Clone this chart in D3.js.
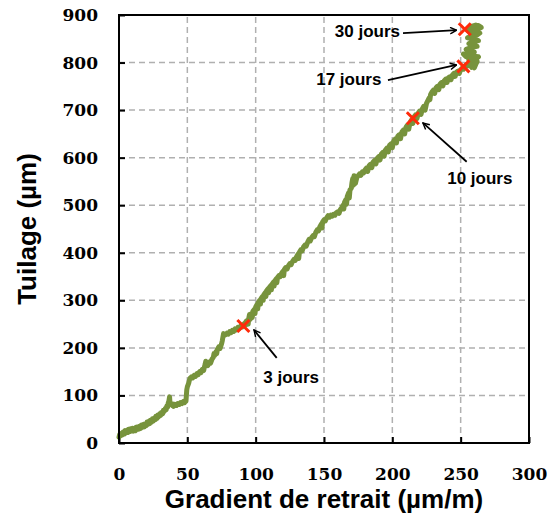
<!DOCTYPE html>
<html>
<head>
<meta charset="utf-8">
<script src="https://cdn.jsdelivr.net/npm/d3@7"></script>
<style>
  body { margin: 0; background: #fff; }
</style>
</head>
<body>
<div id="chart"></div>
<script>
// data
var gradient = [0,0.5,1,2,2.5,3,4,4.5,5,6,6.5,7,8,8.5,9,10,10.5,11,12,12.5,13,14,14.5,15,16,16.5,17,18,18.5,19,20,20.5,21,22,22.5,23,24,24.5,25,26,26.5,27,28,28.5,29,30,30.5,31,32,32.5,33,34,34.5,35,35.5,36,36.5,37,37.3,38,39,39.5,40,41,42,43,44,45,46,47,48,48.5,49,49.3,49.6,50,51,51.5,52,53,54,55,56,57,58,59,60,61,62,62.5,63,63.5,64,65,66,67,68,69,69.5,70,71,71.5,72,73,74,75,75.5,76,76.5,77,78,79,80,81,82,83,84,85,86,87,88,89,90,91,92,92.5,93,94,94.5,95,95.5,96,97,97.5,98,99,99.5,100,101,101.5,102,103,103.5,104,105,105.5,106,107,107.5,108,109,109.5,110,111,111.5,112,113,113.5,114,115,115.5,116,117,118,119,120,120.5,121,122,123,124,125,126,127,128,129,130,131,131.5,132,133,134,135,136,137,138,139,140,141,142,143,144,145,146,147,148,148.5,149,150,151,152,153,154,155,156,157,158,159,160,161,162,163,164,164.5,165,166,166.5,167,168,168.5,169,170,170.5,171,171.5,172,172.5,173,174,175,176,177,178,179,180,181,182,183,184,185,186,187,188,189,190,191,192,193,194,195,196,197,198,199,200,201,202,203,204,205,206,207,208,209,210,211,212,213,214,215,216,217,218,219,220,221,222,223,224,225,226,227,227.5,228,229,230,231,232,233,234,235,236,237,238,239,240,241,242,243,244,245,246,247,248,249,250,251,252,253,254,255,256,
  257,258,259,260,261,262,259,256,261,263,258,254,252,256,260,257,254,258,262,259,256,260,263,259,255,258,262,264,260,257,259,262,265,263,260,257,255,258,261];
var tuilage  = [12,18,15,21,17,23,19,26,21,27,22,29,24,30,26,31,25,29,26,33,29,34,29,35,31,38,33,39,34,40,37,44,39,46,41,48,44,51,46,53,49,56,52,59,55,62,58,64,62,69,66,73,70,78,75,84,88,97,84,82,79,82,77,81,79,83,81,85,83,87,85,90,88,100,112,118,126,132,136,139,137,142,140,146,144,150,148,155,153,160,165,172,166,163,170,168,176,180,188,184,192,188,197,202,199,208,214,222,230,226,228,231,229,234,232,237,235,240,238,243,241,246,244,249,252,248,
  256,258,250,263,270,260,272,264,277,281,272,286,291,282,296,300,292,304,308,300,312,316,308,320,324,316,327,331,322,334,338,330,341,345,337,348,352,350,357,361,352,365,369,366,373,377,375,382,386,384,392,397,388,401,406,404,412,416,414,422,428,425,432,436,434,443,448,446,455,460,452,465,469,467,474,478,475,479,477,481,479,484,486,483,491,495,500,492,506,512,502,518,526,515,532,536,548,556,542,562,550,546,558,562,566,563,570,568,
  574,578,571,583,586,579,591,594,587,599,602,595,608,611,603,616,620,612,626,629,621,635,639,631,645,648,640,654,658,650,664,668,660,674,679,672,686,690,682,694,698,691,703,708,700,714,720,726,722,733,738,742,735,747,750,743,755,758,751,762,765,758,768,770,764,774,777,771,780,782,777,785,788,786,792,795,793,798,
  794,790,793,789,796,802,800,806,808,812,814,812,818,820,822,826,828,832,834,838,840,844,846,850,852,856,858,862,864,862,868,870,874,878,876,872,868,876,879];

// marked ages
var jours = ["3 jours", "10 jours", "17 jours", "30 jours"];
var marqueX = [91, 215, 252, 253];
var marqueY = [246, 683, 792, 870];

var xTicks = [0, 50, 100, 150, 200, 250, 300];
var yTicks = [0, 100, 200, 300, 400, 500, 600, 700, 800, 900];

var width = 549, height = 520;
var margin = {top: 15, right: 20, bottom: 77, left: 119};

var svg = d3.select("#chart").append("svg")
    .attr("width", width)
    .attr("height", height);

var x = d3.scaleLinear().domain([0, 300]).range([margin.left, width - margin.right]);
var y = d3.scaleLinear().domain([0, 900]).range([height - margin.bottom, margin.top]);

// grid
svg.append("g").selectAll("line")
  .data(xTicks.filter(function(d) { return d > 0 && d < 300; }))
  .enter().append("line")
    .attr("x1", function(d) { return x(d); })
    .attr("x2", function(d) { return x(d); })
    .attr("y1", y(0)).attr("y2", y(900))
    .attr("stroke", "#b0b0b0").attr("stroke-width", 1.5)
    .attr("stroke-dasharray", "6,4");

svg.append("g").selectAll("line")
  .data(yTicks.filter(function(d) { return d > 0 && d < 900; }))
  .enter().append("line")
    .attr("y1", function(d) { return y(d); })
    .attr("y2", function(d) { return y(d); })
    .attr("x1", x(0)).attr("x2", x(300))
    .attr("stroke", "#b0b0b0").attr("stroke-width", 1.5)
    .attr("stroke-dasharray", "6,4");

// axes
var xAxis = svg.append("g")
    .attr("transform", "translate(0," + y(0) + ")")
    .call(d3.axisBottom(x).tickValues(xTicks).tickSize(-6).tickPadding(25));
var yAxis = svg.append("g")
    .attr("transform", "translate(" + x(0) + ",0)")
    .call(d3.axisLeft(y).tickValues(yTicks).tickSize(-6).tickPadding(21));

[xAxis, yAxis].forEach(function(a) {
  a.select(".domain").remove();
  a.selectAll(".tick line").attr("stroke", "#000").attr("stroke-width", 2);
  a.selectAll("text")
    .attr("fill", "#000")
    .style("font-family", "'DejaVu Serif', serif")
    .style("font-weight", "bold")
    .style("font-size", "17px");
});

// curve
var n = Math.min(gradient.length, tuilage.length);
var pts = gradient.slice(0, n).map(function(g, i) { return [g, tuilage[i]]; });
var line = d3.line()
    .x(function(d) { return x(d[0]); })
    .y(function(d) { return y(d[1]); });

svg.append("path")
    .datum(pts)
    .attr("d", line)
    .attr("fill", "none")
    .attr("stroke", "#77933c")
    .attr("stroke-width", 5)
    .attr("stroke-linejoin", "round")
    .attr("stroke-linecap", "round");

// frame
svg.append("rect")
    .attr("x", x(0)).attr("y", y(900))
    .attr("width", x(300) - x(0))
    .attr("height", y(0) - y(900))
    .attr("fill", "none")
    .attr("stroke", "#000")
    .attr("stroke-width", 2);

// arrows
svg.append("defs").append("marker")
    .attr("id", "fleche")
    .attr("viewBox", "0 0 10 10")
    .attr("refX", 9).attr("refY", 5)
    .attr("markerWidth", 8).attr("markerHeight", 8)
    .attr("markerUnits", "userSpaceOnUse")
    .attr("orient", "auto")
  .append("path")
    .attr("d", "M1,1 L9,5 L1,9")
    .attr("fill", "none")
    .attr("stroke", "#000")
    .attr("stroke-width", 1.8);

// label text position (data units) and arrow ends
var labelX = [126, 264, 192, 205.6];
var labelY = [139, 557, 765, 866];
var anchor = ["middle", "middle", "end", "end"];
var tailX = [115.4, 254.4, 196.8, 207.8];
var tailY = [179, 591.5, 763, 862];
var headX = [98.8, 222.4, 247, 247];
var headY = [237.6, 673, 795, 868];

svg.append("g").selectAll("line")
  .data(jours)
  .enter().append("line")
    .attr("x1", function(d, i) { return x(tailX[i]); })
    .attr("y1", function(d, i) { return y(tailY[i]); })
    .attr("x2", function(d, i) { return x(headX[i]); })
    .attr("y2", function(d, i) { return y(headY[i]); })
    .attr("stroke", "#000")
    .attr("stroke-width", 1.8)
    .attr("marker-end", "url(#fleche)");

svg.append("g").selectAll("text")
  .data(jours)
  .enter().append("text")
    .attr("x", function(d, i) { return x(labelX[i]); })
    .attr("y", function(d, i) { return y(labelY[i]); })
    .attr("dy", "0.35em")
    .attr("text-anchor", function(d, i) { return anchor[i]; })
    .style("font-family", "'Liberation Sans', Arial, sans-serif")
    .style("font-weight", "bold")
    .style("font-size", "17px")
    .text(function(d) { return d; });

// markers
svg.append("g").selectAll("path")
  .data(jours)
  .enter().append("path")
    .attr("transform", function(d, i) { return "translate(" + x(marqueX[i]) + "," + y(marqueY[i]) + ")"; })
    .attr("d", "M-6,-6 L6,6 M-6,6 L6,-6")
    .attr("stroke", "#ff2a0a")
    .attr("stroke-width", 3);

// axis titles
svg.append("text")
    .attr("x", (x(0) + x(300)) / 2)
    .attr("y", 508)
    .attr("text-anchor", "middle")
    .style("font-family", "'Liberation Sans', Arial, sans-serif")
    .style("font-weight", "bold")
    .style("font-size", "26px")
    .text("Gradient de retrait (µm/m)");

svg.append("text")
    .attr("transform", "translate(36," + (y(0) + y(900)) / 2 + ") rotate(-90)")
    .attr("text-anchor", "middle")
    .style("font-family", "'Liberation Sans', Arial, sans-serif")
    .style("font-weight", "bold")
    .style("font-size", "26px")
    .text("Tuilage (µm)");
</script>
</body>
</html>
